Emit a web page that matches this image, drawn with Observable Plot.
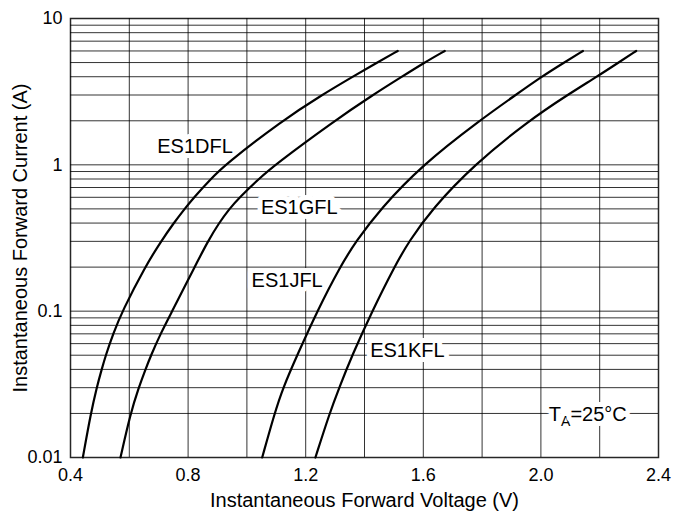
<!DOCTYPE html>
<html>
<head>
<meta charset="utf-8">
<script src="https://cdn.jsdelivr.net/npm/d3@7"></script>
<script src="https://cdn.jsdelivr.net/npm/@observablehq/plot@0.6"></script>
<style>
  html, body { margin: 0; padding: 0; background: #fff; }
</style>
</head>
<body>
<div id="chart"></div>
<script>
// ---- data ----
const xTickValues = [0.4, 0.8, 1.2, 1.6, 2.0, 2.4];
const xGridValues = [0.6, 0.8, 1.0, 1.2, 1.4, 1.6, 1.8, 2.0, 2.2];
const yTickValues = [0.01, 0.1, 1, 10];
const yGridValues = [0.02, 0.03, 0.04, 0.05, 0.06, 0.07, 0.08, 0.09, 0.1,
                     0.2, 0.3, 0.4, 0.5, 0.6, 0.7, 0.8, 0.9, 1,
                     2, 3, 4, 5, 6, 7, 8, 9];

// [voltage (V), current (A)]
const ES1DFL = [[0.442,0.01],[0.469,0.02],[0.489,0.03],[0.506,0.04],[0.520,0.05],[0.545,0.07],
                [0.576,0.1],[0.653,0.2],[0.708,0.3],[0.751,0.4],[0.788,0.5],[0.820,0.6],[0.877,0.8],
                [0.925,1],[1.119,2],[1.255,3],[1.360,4],[1.443,5],[1.513,6]];
const ES1GFL = [[0.570,0.01],[0.604,0.02],[0.632,0.03],[0.655,0.04],[0.674,0.05],[0.706,0.07],
                [0.746,0.1],[0.822,0.2],[0.867,0.3],[0.905,0.4],[0.940,0.5],[0.975,0.6],[1.040,0.8],
                [1.095,1],[1.298,2],[1.428,3],[1.527,4],[1.604,5],[1.673,6]];
const ES1JFL = [[1.052,0.01],[1.094,0.02],[1.123,0.03],[1.171,0.05],[1.239,0.1],[1.316,0.2],
                [1.371,0.3],[1.454,0.5],[1.597,1],[1.790,2],[1.914,3],[2.002,4],[2.079,5],[2.143,6]];
const ES1KFL = [[1.233,0.01],[1.281,0.02],[1.314,0.03],[1.358,0.05],[1.426,0.1],[1.501,0.2],
                [1.551,0.3],[1.630,0.5],[1.772,1],[1.958,2],[2.090,3],[2.190,4],[2.264,5],[2.324,6]];

const seriesLabels = [
  {text: "ES1DFL", v: 0.8235, i: 1.33},
  {text: "ES1GFL", v: 1.178, i: 0.509},
  {text: "ES1JFL", v: 1.137, i: 0.163},
  {text: "ES1KFL", v: 1.546, i: 0.0535}
];
const tempLabel = [{text: "TA=25°C", v: 2.027, i: 0.0197}];

const xTitle = "Instantaneous Forward Voltage (V)";
const yTitle = "Instantaneous Forward Current (A)";

// ---- chart ----
const toRows = (pairs) => pairs.map(([v, i]) => ({v, i}));
const lineOpts = {x: "v", y: "i", stroke: "#000", strokeWidth: 2.2, curve: "basis"};

const chart = Plot.plot({
  width: 674,
  height: 512,
  marginLeft: 70,
  marginRight: 16,
  marginTop: 18,
  marginBottom: 55,
  style: {fontFamily: "'Liberation Sans', Arial, sans-serif", fontSize: "18px", color: "#000", background: "#fff"},
  x: {type: "linear", domain: [0.4, 2.4]},
  y: {type: "log", domain: [0.01, 10]},
  marks: [
    Plot.ruleX(xGridValues, {stroke: "#000", strokeOpacity: 0.8, strokeWidth: 1}),
    Plot.ruleY(yGridValues, {stroke: "#000", strokeOpacity: 0.8, strokeWidth: 1}),
    Plot.frame({stroke: "#000", strokeWidth: 1.5, strokeOpacity: 0.85}),
    Plot.axisX({ticks: xTickValues, tickSize: 0, tickPadding: 11, tickFormat: d => d.toFixed(1), label: null, fontSize: 18}),
    Plot.axisY({ticks: yTickValues, tickSize: 0, tickPadding: 8, tickFormat: d => String(d), label: null, fontSize: 18}),
    Plot.text([xTitle], {text: d => d, frameAnchor: "bottom", dy: 49, fontSize: 20, textAnchor: "middle"}),
    Plot.text([yTitle], {text: d => d, frameAnchor: "left", dx: -50, rotate: -90, fontSize: 20, textAnchor: "middle"}),
    Plot.text(seriesLabels, {x: "v", y: "i", text: "text", fontSize: 20, fill: "#000", stroke: "#fff", strokeWidth: 10}),
    Plot.text(tempLabel, {x: "v", y: "i", text: "text", fontSize: 20, fill: "#000", stroke: "#fff", strokeWidth: 10, textAnchor: "start"}),
    Plot.line(toRows(ES1DFL), lineOpts),
    Plot.line(toRows(ES1GFL), lineOpts),
    Plot.line(toRows(ES1JFL), lineOpts),
    Plot.line(toRows(ES1KFL), lineOpts)
  ]
});

// subscript A in T_A
d3.select(chart).selectAll("text")
  .filter(function () { return this.textContent === "TA=25°C"; })
  .each(function () {
    const t = d3.select(this);
    t.text(null);
    t.append("tspan").text("T");
    t.append("tspan").attr("font-size", 14).attr("dy", 5).text("A");
    t.append("tspan").attr("dy", -5).text("=25°C");
  });

document.getElementById("chart").appendChild(chart);
</script>
</body>
</html>
